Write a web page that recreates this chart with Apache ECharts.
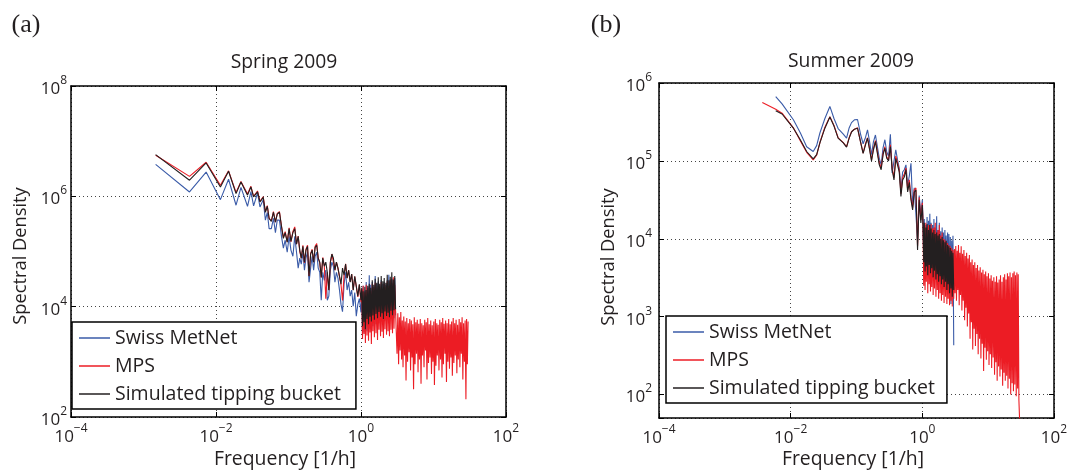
<!DOCTYPE html>
<html><head><meta charset="utf-8">
<script src="https://cdn.jsdelivr.net/npm/echarts@6/dist/echarts.min.js"></script>
<style>html,body{margin:0;padding:0;background:#fff}#c{width:1075px;height:472px}</style>
</head><body><div id="c"></div>
<script>
// ---------- data ----------
const seriesNames = ['Swiss MetNet', 'MPS', 'Simulated tipping bucket'];
const panelTitles = ['Spring 2009', 'Summer 2009'];
const panelTags = ['(a)', '(b)'];
const xAxisTitle = 'Frequency [1/h]';
const yAxisTitle = 'Spectral Density';

// shared dense frequency grids [1/h]
const freqMid = [1.00, 1.024, 1.05, 1.07, 1.10, 1.13, 1.15, 1.18, 1.21, 1.24,
  1.27, 1.30, 1.33, 1.36, 1.39, 1.43, 1.46, 1.50, 1.53, 1.57,
  1.61, 1.65, 1.69, 1.73, 1.77, 1.81, 1.86, 1.90, 1.95, 2.00,
  2.04, 2.09, 2.14, 2.20, 2.25, 2.30, 2.36, 2.42, 2.47, 2.53,
  2.59, 2.66, 2.72, 2.79, 2.85, 2.92, 3.00];
const freqHigh = [3.07, 3.14, 3.22, 3.30, 3.38, 3.46, 3.54, 3.63, 3.71, 3.80,
  3.89, 3.99, 4.08, 4.18, 4.28, 4.39, 4.49, 4.60, 4.71, 4.83,
  4.94, 5.06, 5.18, 5.31, 5.43, 5.56, 5.70, 5.83, 5.97, 6.12,
  6.26, 6.41, 6.57, 6.73, 6.89, 7.05, 7.22, 7.40, 7.57, 7.76,
  7.94, 8.13, 8.33, 8.53, 8.73, 8.94, 9.16, 9.38, 9.60, 9.83,
  10.1, 10.3, 10.6, 10.8, 11.1, 11.3, 11.6, 11.9, 12.2, 12.5,
  12.8, 13.1, 13.4, 13.7, 14.0, 14.4, 14.7, 15.1, 15.4, 15.8,
  16.2, 16.6, 17.0, 17.4, 17.8, 18.2, 18.7, 19.1, 19.6, 20.0,
  20.5, 21.0, 21.5, 22.0, 22.6, 23.1, 23.7, 24.2, 24.8, 25.4,
  26.0, 26.7, 27.3, 28.0, 28.6, 29.3, 30.0];

// Panel (a) Spring 2009
const freqLowA = [0.00147, 0.00431, 0.00731, 0.0115, 0.0149, 0.0189, 0.0221, 0.0272, 0.0303, 0.0330, 0.0374, 0.0404, 0.0448,
  0.048, 0.051, 0.054, 0.058, 0.062, 0.066, 0.070, 0.075, 0.080, 0.085,
  0.090, 0.096, 0.102, 0.108, 0.115, 0.122, 0.129, 0.136, 0.143, 0.150,
  0.158, 0.166, 0.174, 0.183, 0.192, 0.202, 0.212, 0.222, 0.233, 0.245,
  0.257, 0.270, 0.283, 0.297, 0.312, 0.327, 0.343, 0.360, 0.378, 0.397,
  0.416, 0.437, 0.458, 0.481, 0.505, 0.530, 0.556, 0.584, 0.613, 0.643,
  0.675, 0.709, 0.744, 0.781, 0.820, 0.861, 0.904, 0.949];
const metnetLowA = [3.8e6, 1.2e6, 2.75e6, 8.7e5, 2.04e6, 6.9e5, 1.45e6, 6.6e5, 1.22e6, 6.7e5, 1.15e6, 6.4e5, 8.7e5,
  3.7e5, 5.1e5, 2.6e5, 2.6e5, 4.0e5, 2.2e5, 3.7e5, 3.7e5, 1.88e5, 1.15e5,
  1.6e5, 9.7e4, 1.88e5, 1.06e5, 8.2e4, 1.88e5, 9.7e4, 5.0e4, 7.6e4, 5.9e4,
  9.7e4, 4.6e4, 7.6e4, 9.7e4, 2.77e4, 5.0e4, 8.2e4, 4.6e4, 8.2e4, 9.7e4,
  5.0e4, 4.2e4, 1.31e4, 4.2e4, 3.0e4, 4.6e4, 1.31e4, 1.55e4, 4.6e4, 6.4e4,
  5.4e4, 2.77e4, 4.2e4, 3.3e4, 2.0e4, 1.1e4, 8.1e3, 2.55e4, 4.2e4, 2.0e4,
  2.77e4, 1.55e4, 2.0e4, 1.02e4, 1.8e4, 6.7e3, 1.1e4, 1.4e4];
const metnetMidA = [7.9e3, 2.0e4, 3.0e3, 2.4e4, 3.4e3, 1.9e4, 4.2e3, 2.8e4, 3.6e3, 2.2e4,
  4.6e3, 3.7e4, 4.0e3, 2.5e4, 5.0e3, 2.8e4, 4.4e3, 2.3e4, 5.2e3, 3.6e4,
  4.8e3, 2.6e4, 5.6e3, 2.9e4, 5.0e3, 2.4e4, 6.0e3, 3.0e4, 5.4e3, 2.6e4,
  6.2e3, 2.8e4, 5.6e3, 2.5e4, 6.4e3, 3.0e4, 5.8e3, 3.8e4, 6.6e3, 2.9e4,
  6.0e3, 3.2e4, 6.8e3, 2.7e4, 6.2e3, 3.3e4, 7.0e3];
const mpsLowA = [5.55e6, 2.3e6, 4.15e6, 1.59e6, 2.9e6, 1.18e6, 1.86e6, 1.1e6, 1.52e6, 1.0e6, 1.25e6, 8.1e5, 9.8e5,
  5.3e5, 6.8e5, 4.0e5, 3.6e5, 5.3e5, 3.4e5, 4.9e5, 5.3e5, 2.9e5, 1.8e5,
  2.3e5, 1.5e5, 2.7e5, 1.5e5, 2.3e5, 2.8e5, 1.36e5, 1.9e5, 1.0e5, 7.6e4,
  1.3e5, 6.2e4, 1.1e5, 1.3e5, 3.6e4, 9.2e4, 1.1e5, 6.4e4, 1.25e5, 1.4e5,
  7.6e4, 6.2e4, 3.4e4, 7.8e4, 5.4e4, 1.4e4, 4.2e4, 2.0e4, 6.4e4, 9.0e4,
  9.5e4, 4.6e4, 6.4e4, 5.0e4, 3.5e4, 2.5e4, 1.3e4, 3.7e4, 6.0e4, 3.3e4,
  4.6e4, 2.8e4, 3.9e4, 2.0e4, 3.5e4, 2.3e4, 1.5e4, 2.5e4];
const mpsMidA = [1.2e4, 2.1e4, 2.6e3, 2.4e4, 3.2e3, 1.8e4, 2.2e3, 2.5e4, 3.0e3, 2.0e4,
  2.4e3, 2.3e4, 3.4e3, 1.9e4, 2.1e3, 2.6e4, 3.6e3, 2.2e4, 2.8e3, 2.7e4,
  3.3e3, 2.0e4, 2.5e3, 2.4e4, 3.8e3, 2.2e4, 2.9e3, 2.8e4, 3.5e3, 2.1e4,
  2.7e3, 2.6e4, 3.9e3, 2.3e4, 3.1e3, 2.9e4, 3.6e3, 2.4e4, 2.9e3, 3.1e4,
  3.8e3, 2.6e4, 3.3e3, 3.4e4, 4.0e3, 2.5e4, 8.0e3];
const mpsHighA = [8.6e3, 1.4e3, 7.6e3, 900, 6.4e3, 1.6e3, 8.0e3, 1.1e3, 5.6e3, 800,
  6.6e3, 1.3e3, 5.4e3, 460, 6.2e3, 1.0e3, 5.0e3, 1.5e3, 6.0e3, 700,
  5.6e3, 1.2e3, 4.8e3, 320, 6.4e3, 900, 5.2e3, 1.4e3, 5.8e3, 650,
  4.9e3, 1.1e3, 6.0e3, 400, 5.0e3, 1.3e3, 4.6e3, 800, 5.8e3, 1.6e3,
  5.2e3, 480, 6.2e3, 950, 4.8e3, 1.2e3, 5.6e3, 600, 4.6e3, 1.0e3,
  5.4e3, 380, 6.0e3, 850, 5.0e3, 1.3e3, 4.7e3, 700, 5.8e3, 1.1e3,
  5.2e3, 520, 6.2e3, 900, 4.9e3, 1.4e3, 5.6e3, 430, 5.0e3, 1.0e3,
  6.0e3, 750, 4.8e3, 1.2e3, 5.4e3, 560, 6.2e3, 950, 5.0e3, 1.3e3,
  5.8e3, 620, 4.7e3, 1.1e3, 6.0e3, 800, 5.2e3, 1.4e3, 6.4e3, 480,
  5.0e3, 1.0e3, 5.6e3, 210, 6.0e3, 900, 5.4e3];
const tbLowA = [5.7e6, 1.96e6, 4.03e6, 1.48e6, 2.85e6, 1.12e6, 1.82e6, 1.05e6, 1.48e6, 9.8e5, 1.2e6, 7.9e5, 9.6e5,
  5.15e5, 6.6e5, 4.0e5, 3.5e5, 5.15e5, 3.4e5, 4.75e5, 5.15e5, 2.85e5, 1.73e5,
  2.2e5, 1.47e5, 2.6e5, 1.53e5, 2.2e5, 2.6e5, 1.36e5, 1.88e5, 1.06e5, 7.6e4,
  1.24e5, 6.4e4, 1.06e5, 1.24e5, 3.55e4, 9.0e4, 1.06e5, 6.4e4, 1.19e5, 1.3e5,
  7.6e4, 6.4e4, 3.4e4, 7.6e4, 5.4e4, 6.4e4, 4.2e4, 1.99e4, 6.4e4, 9.0e4,
  7.6e4, 4.58e4, 6.4e4, 5.0e4, 3.55e4, 2.55e4, 5.0e4, 3.72e4, 5.9e4, 3.3e4,
  4.58e4, 2.77e4, 3.9e4, 1.99e4, 3.55e4, 2.35e4, 1.55e4, 2.55e4];
const tbMidA = [1.31e4, 2.2e4, 4.4e3, 1.9e4, 5.2e3, 2.3e4, 3.9e3, 2.0e4, 6.0e3, 2.4e4,
  4.8e3, 2.6e4, 6.6e3, 2.2e4, 5.4e3, 3.0e4, 6.9e3, 2.5e4, 5.8e3, 3.2e4,
  7.4e3, 2.7e4, 6.2e3, 3.4e4, 8.0e3, 2.6e4, 6.6e3, 3.6e4, 7.6e3, 2.9e4,
  6.0e3, 3.3e4, 8.2e3, 2.7e4, 6.8e3, 3.8e4, 7.8e3, 3.0e4, 6.4e3, 3.5e4,
  8.4e3, 4.2e4, 7.0e3, 3.1e4, 8.6e3, 3.6e4, 9.0e3];

// Panel (b) Summer 2009
const freqLowB = [0.00371, 0.00593, 0.0074, 0.0110, 0.0140, 0.0175, 0.0220, 0.0248, 0.0278, 0.0331, 0.0394, 0.0455, 0.0526, 0.0630, 0.0706, 0.0773, 0.0840, 0.0930, 0.1036, 0.116, 0.126,
  0.137, 0.147, 0.158, 0.169, 0.181, 0.194, 0.208, 0.222, 0.237, 0.253,
  0.270, 0.288, 0.307, 0.327, 0.348, 0.371, 0.395, 0.420, 0.446, 0.473,
  0.502, 0.532, 0.564, 0.598, 0.634, 0.672, 0.712, 0.754, 0.799, 0.846,
  0.896, 0.949];
const metnetLowB = [null, 6.7e5, 5.4e5, 3.37e5, 2.3e5, 1.52e5, 1.32e5, 1.57e5, 2.28e5, 3.5e5, 5.0e5, 3.5e5, 2.6e5, 2.2e5, 1.96e5, 2.65e5, 3.1e5, 3.37e5, 3.4e5, 2.15e5, 1.66e5,
  2.0e5, 2.5e5, 1.77e5, 1.2e5, 1.77e5, 2.15e5, 2.28e5, 1.08e5, 8.9e4, 1.47e5,
  1.87e5, 1.3e5, 1.15e5, 2.2e5, 7.0e4, 7.2e4, 1.39e5, 1.03e5, 8.1e4, 4.24e4,
  7.2e4, 7.7e4, 8.9e4, 4.9e4, 6.4e4, 9.3e4, 2.72e4, 4.5e4, 4.7e4, 9.6e3,
  3.6e4, 2.02e4];
const metnetMidB = [3.16e4, 1.6e4, 5.4e3, 1.8e4, 4.6e3, 1.5e4, 5.6e3, 1.9e4, 4.2e3, 1.7e4,
  5.0e3, 2.1e4, 4.4e3, 1.6e4, 5.2e3, 1.5e4, 3.9e3, 1.8e4, 4.6e3, 1.4e4,
  3.6e3, 1.95e4, 4.2e3, 1.3e4, 3.4e3, 1.6e4, 4.0e3, 1.25e4, 3.2e3, 1.4e4,
  3.6e3, 1.2e4, 3.0e3, 1.3e4, 3.3e3, 1.1e4, 2.7e3, 1.2e4, 3.0e3, 1.15e4,
  2.4e3, 1.05e4, 1.45e3, 9.5e3, 2.1e3, 1.09e4, 430];
const mpsLowB = [5.6e5, 4.6e5, 4.1e5, 2.66e5, 1.82e5, 1.29e5, 1.03e5, 1.18e5, 1.72e5, 2.7e5, 3.7e5, 2.85e5, 1.98e5, 1.72e5, 1.52e5, 1.98e5, 2.37e5, 2.55e5, 2.66e5, 1.72e5, 1.26e5,
  1.66e5, 1.98e5, 1.44e5, 1.03e5, 1.44e5, 1.82e5, 1.9e5, 9.4e4, 8.1e4, 1.24e5,
  1.52e5, 1.12e5, 1.03e5, 1.61e5, 8.1e4, 6.1e4, 1.15e5, 9.4e4, 7.7e4, 3.8e4,
  6.1e4, 6.8e4, 8.1e4, 4.24e4, 5.7e4, 3.4e4, 2.5e4, 4.24e4, 4.5e4, 8.0e3,
  3.4e4, 1.75e4];
const mpsMidB = [2.9e4, 1.55e4, 2.5e3, 1.45e4, 2.2e3, 1.6e4, 2.8e3, 1.4e4, 2.0e3, 1.5e4,
  2.6e3, 1.3e4, 2.1e3, 1.55e4, 2.4e3, 1.35e4, 1.9e3, 1.4e4, 2.3e3, 1.6e4,
  1.8e3, 1.2e4, 2.2e3, 1.3e4, 1.7e3, 1.5e4, 2.0e3, 1.1e4, 1.6e3, 1.2e4,
  1.9e3, 1.0e4, 1.5e3, 9.8e3, 1.8e3, 9.2e3, 1.45e3, 8.8e3, 1.7e3, 8.3e3,
  1.4e3, 8.0e3, 1.6e3, 7.6e3, 1.35e3, 7.2e3, 1.7e3];
const mpsHighB = [7.4e3, 2.0e3, 8.1e3, 1.6e3, 7.0e3, 2.2e3, 8.3e3, 1.4e3, 6.6e3, 1.9e3,
  8.0e3, 1.2e3, 6.4e3, 1.6e3, 7.2e3, 900, 6.0e3, 1.3e3, 6.6e3, 750,
  5.6e3, 1.1e3, 6.2e3, 520, 5.0e3, 850, 5.4e3, 380, 4.6e3, 700,
  5.0e3, 420, 4.2e3, 600, 4.6e3, 330, 3.9e3, 520, 4.3e3, 290,
  3.7e3, 450, 4.0e3, 200, 3.5e3, 400, 3.8e3, 280, 3.3e3, 360,
  3.6e3, 240, 3.1e3, 330, 3.4e3, 220, 2.9e3, 300, 3.2e3, 180,
  2.8e3, 260, 3.3e3, 150, 2.75e3, 230, 3.0e3, 170, 3.4e3, 210,
  2.8e3, 130, 3.2e3, 190, 3.5e3, 150, 3.0e3, 175, 3.6e3, 120,
  3.3e3, 160, 3.7e3, 100, 3.2e3, 140, 3.6e3, 110, 3.8e3, 135,
  3.4e3, 95, 3.7e3, 120, 3.5e3, 85, 48];
const tbLowB = [null, 4.4e5, 4.0e5, 2.63e5, 1.87e5, 1.32e5, 1.06e5, 1.2e5, 1.7e5, 2.63e5, 3.65e5, 2.8e5, 1.96e5, 1.7e5, 1.5e5, 1.96e5, 2.35e5, 2.55e5, 2.63e5, 1.7e5, 1.25e5,
  1.61e5, 1.96e5, 1.39e5, 1.0e5, 1.39e5, 1.77e5, 1.8e5, 8.9e4, 7.7e4, 1.2e5,
  1.46e5, 1.08e5, 1.0e5, 1.53e5, 7.7e4, 5.7e4, 1.07e5, 8.9e4, 7.2e4, 3.5e4,
  5.7e4, 6.2e4, 7.7e4, 4.0e4, 5.3e4, 3.16e4, 2.35e4, 3.95e4, 4.24e4, 7.2e3,
  3.16e4, 1.6e4];
const tbMidB = [2.72e4, 1.5e4, 5.0e3, 1.6e4, 3.8e3, 1.4e4, 4.4e3, 1.55e4, 3.4e3, 1.3e4,
  4.6e3, 1.5e4, 3.6e3, 1.35e4, 4.2e3, 1.2e4, 3.2e3, 1.3e4, 3.9e3, 1.15e4,
  3.0e3, 1.2e4, 3.5e3, 1.1e4, 2.8e3, 1.15e4, 3.3e3, 1.0e4, 2.6e3, 1.05e4,
  3.0e3, 9.6e3, 2.4e3, 9.0e3, 2.8e3, 9.4e3, 2.2e3, 8.3e3, 2.6e3, 8.0e3,
  2.0e3, 7.6e3, 2.3e3, 7.0e3, 1.8e3, 6.6e3, 2.2e3];

// axis ranges
const xRange = [1e-4, 1e2];
const yRangeA = [1e2, 1e8];
const yRangeB = [50, 1e6];

// ---------- chart ----------
const freqA = freqLowA.concat(freqMid, freqHigh);
const freqB = freqLowB.concat(freqMid, freqHigh);
const FONT = '"Open Sans", sans-serif';
const TXT = '#231f20';
const colors = ['#3a5ba8', '#ec1c24', '#231f20'];

function pairs(freq, vals) {
  const out = [];
  vals.forEach((v, i) => { if (v != null) out.push([freq[i], v]); });
  return out;
}
function powLabel(v) {
  const l = Math.log10(v), e = Math.round(l);
  if (Math.abs(l - e) > 1e-6) return '';
  return '{b|10}{e|' + (e < 0 ? '\u2212' + (-e) : e) + '}';
}
const rich = {
  b: { fontFamily: FONT, fontSize: 17, color: TXT, verticalAlign: 'bottom', lineHeight: 23 },
  e: { fontFamily: FONT, fontSize: 12, color: TXT, verticalAlign: 'top', lineHeight: 12 }
};
const boxLine = { show: true, onZero: false, lineStyle: { color: '#000', width: 1.5 } };
const tick = { show: true, inside: true, length: 5, lineStyle: { color: '#000', width: 1 } };
const grid = { show: true, lineStyle: { color: '#444', width: 1, type: [1, 3] } };

function xAxes(g, interval) {
  return [
    { type: 'log', logBase: 10, gridIndex: g, min: xRange[0], max: xRange[1], interval: interval, position: 'bottom',
      axisLine: boxLine, axisTick: tick, splitLine: grid,
      axisLabel: { formatter: powLabel, rich: rich, margin: 6, showMinLabel: true, showMaxLabel: true } },
    { type: 'log', logBase: 10, gridIndex: g, min: xRange[0], max: xRange[1], interval: interval, position: 'top',
      axisLine: boxLine, axisTick: tick, splitLine: { show: false }, axisLabel: { show: false } }
  ];
}
function yAxes(g, range, interval, margin) {
  const base = { type: 'log', logBase: 10, gridIndex: g, min: range[0], max: range[1] };
  if (interval) base.interval = interval;
  return [
    Object.assign({}, base, { position: 'left',
      axisLine: boxLine, axisTick: tick, splitLine: grid,
      axisLabel: { formatter: powLabel, rich: rich, margin: margin, showMinLabel: true, showMaxLabel: true } }),
    Object.assign({}, base, { position: 'right',
      axisLine: boxLine, axisTick: tick, splitLine: { show: false }, axisLabel: { show: false } })
  ];
}
function lines(g, sets) {
  return sets.map((d, k) => ({
    type: 'line', name: seriesNames[k], xAxisIndex: 2 * g, yAxisIndex: 2 * g,
    data: d, symbol: 'none', showSymbol: false, clip: true, animation: false,
    lineStyle: { width: 1.1, color: colors[k] }, itemStyle: { color: colors[k] }, z: 2 + k
  }));
}
function legend(left, top, pad) {
  return {
    data: seriesNames, orient: 'vertical', left: left, top: top, icon: 'rect',
    itemWidth: 31, itemHeight: 1.5, itemGap: 6, padding: pad,
    backgroundColor: '#fff', borderColor: '#000', borderWidth: 1.5, borderRadius: 0,
    textStyle: { fontFamily: FONT, fontSize: 19.5, color: TXT, lineHeight: 22 },
    selectedMode: false, z: 10
  };
}
function label(text, x, y, size, rot, family) {
  return { type: 'text', x: x, y: y, rotation: rot || 0, z: 20,
    style: { text: text, textAlign: 'center', textVerticalAlign: 'middle',
      font: size + 'px ' + (family || FONT), fill: TXT } };
}

const chart = echarts.init(document.getElementById('c'), null, { renderer: 'canvas' });
chart.setOption({
  animation: false,
  backgroundColor: '#fff',
  grid: [
    { left: 71, top: 86, width: 435, height: 331, show: false },
    { left: 659, top: 83, width: 395, height: 335, show: false }
  ],
  xAxis: [...xAxes(0, 2), ...xAxes(1, 2)],
  yAxis: [...yAxes(0, yRangeA, 2, 4), ...yAxes(1, yRangeB, null, 7)],
  legend: [legend(72, 322, [5, 15, 4, 7]), legend(666, 316, [5, 12, 4, 7])],
  series: [
    ...lines(0, [pairs(freqA, metnetLowA.concat(metnetMidA)),
                 pairs(freqA, mpsLowA.concat(mpsMidA, mpsHighA)),
                 pairs(freqA, tbLowA.concat(tbMidA))]),
    ...lines(1, [pairs(freqB, metnetLowB.concat(metnetMidB)),
                 pairs(freqB, mpsLowB.concat(mpsMidB, mpsHighB)),
                 pairs(freqB, tbLowB.concat(tbMidB))])
  ],
  graphic: [
    label(panelTags[0], 26, 25, 26, 0, '"Liberation Serif", serif'),
    label(panelTags[1], 606, 25, 26, 0, '"Liberation Serif", serif'),
    label(panelTitles[0], 284, 63, 19.3),
    label(panelTitles[1], 851, 62, 19.3),
    label(xAxisTitle, 285, 459, 19.4),
    label(xAxisTitle, 853, 459, 19.4),
    label(yAxisTitle, 21, 256, 18.3, Math.PI / 2),
    label(yAxisTitle, 609, 257, 18.3, Math.PI / 2)
  ]
});
</script>
</body></html>
